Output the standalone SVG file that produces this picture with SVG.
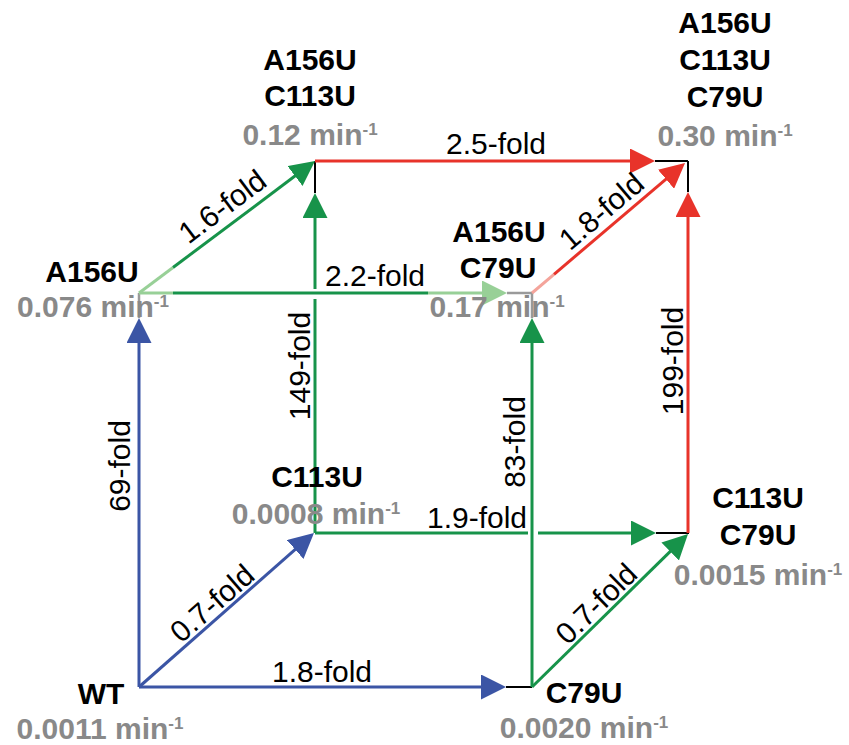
<svg xmlns="http://www.w3.org/2000/svg" width="849" height="745" viewBox="0 0 849 745">
<style>
.e{fill:none;stroke-width:3}
.b{stroke:#3b55a5}
.g{stroke:#17934a}
.r{stroke:#e8332a}
.lg{stroke:#98d097}
.lr{stroke:#f4a49b}
.k{stroke:#000;stroke-width:2;fill:none}
.gy{stroke:#9a9a9a;stroke-width:2.5;fill:none}
.f{font-family:"Liberation Sans",Arial,Helvetica,sans-serif;font-size:30px;fill:#000;text-anchor:middle}
.n{font-family:"Liberation Sans",Arial,Helvetica,sans-serif;font-size:30px;font-weight:bold;fill:#000;text-anchor:middle}
.v{fill:#898989}
.s{font-size:17px}
</style>
<defs>
<marker id="mb" viewBox="0 0 25 25" refX="2" refY="12.5" markerWidth="25" markerHeight="25" markerUnits="userSpaceOnUse" orient="auto"><path d="M0,0L25,12.5L0,25z" fill="#3b55a5"/></marker>
<marker id="mg" viewBox="0 0 25 25" refX="2" refY="12.5" markerWidth="25" markerHeight="25" markerUnits="userSpaceOnUse" orient="auto"><path d="M0,0L25,12.5L0,25z" fill="#17934a"/></marker>
<marker id="mr" viewBox="0 0 25 25" refX="2" refY="12.5" markerWidth="25" markerHeight="25" markerUnits="userSpaceOnUse" orient="auto"><path d="M0,0L25,12.5L0,25z" fill="#e8332a"/></marker>
<marker id="ml" viewBox="0 0 25 25" refX="2" refY="12.5" markerWidth="25" markerHeight="25" markerUnits="userSpaceOnUse" orient="auto"><path d="M0,0L25,12.5L0,25z" fill="#98d097"/></marker>
</defs>
<g id="connectors">
  <g id="e-c113-ac113">
    <path class="e g" d="M315,533V299"/>
    <path class="e g" d="M315,289V216" marker-end="url(#mg)"/>
    <path class="k" d="M315,193V161"/>
    <text class="f" transform="translate(310,366) rotate(-90)">149-fold</text>
  </g>
  <g id="e-c113-cc">
    <path class="e g" d="M315,533H528"/>
    <path class="e g" d="M538,533H633" marker-end="url(#mg)"/>
    <path class="k" d="M656,533H689"/>
    <text class="f" x="477" y="528">1.9-fold</text>
  </g>
  <g id="e-ac113-t">
    <path class="e r" d="M315,161H632" marker-end="url(#mr)"/>
    <path class="k" d="M655,161H688"/>
    <text class="f" x="496" y="154">2.5-fold</text>
  </g>
  <g id="e-cc-t">
    <path class="e r" d="M688,533V215" marker-end="url(#mr)"/>
    <path class="k" d="M688,192V161"/>
    <text class="f" transform="translate(683,361) rotate(-90)">199-fold</text>
  </g>
  <g id="e-wt-c79">
    <path class="e b" d="M139,687H483" marker-end="url(#mb)"/>
    <path class="k" d="M506,687H532"/>
    <text class="f" x="322" y="682">1.8-fold</text>
  </g>
  <g id="e-wt-a156">
    <path class="e b" d="M139,687V341" marker-end="url(#mb)"/>
    <path class="gy" d="M139,318V293"/>
    <text class="f" transform="translate(130,466) rotate(-90)">69-fold</text>
  </g>
  <g id="e-wt-c113">
    <path class="e b" d="M139,687L296.7,548.2" marker-end="url(#mb)"/>
    <text class="f" transform="translate(219,611) rotate(-41.2)">0.7-fold</text>
  </g>
  <g id="e-c79-ac79">
    <path class="e g" d="M532,687V341" marker-end="url(#mg)"/>
    <path class="gy" d="M532,318V293"/>
    <text class="f" transform="translate(525,442) rotate(-90)">83-fold</text>
  </g>
  <g id="e-c79-cc">
    <path class="e g" d="M532,687L671.6,550.1" marker-end="url(#mg)"/>
    <text class="f" transform="translate(603.5,611) rotate(-44.4)">0.7-fold</text>
  </g>
  <g id="e-a156-ac113">
    <path class="e lg" d="M139,293L173,267.5"/>
    <path class="e g" d="M173,267.5L296.6,174.8" marker-end="url(#mg)"/>
    <text class="f" transform="translate(228.6,214.8) rotate(-36.87)">1.6-fold</text>
  </g>
  <g id="e-a156-ac79">
    <path class="e lg" d="M139,293H173"/>
    <path class="e g" d="M173,293H428"/>
    <path class="e lg" d="M428,293H484" marker-end="url(#ml)"/>
    <path class="gy" d="M507,293H532"/>
    <text class="f" x="375" y="286">2.2-fold</text>
  </g>
  <g id="e-ac79-t">
    <path class="e lr" d="M532,293L554,274.3"/>
    <path class="e r" d="M554,274.3L667.5,177.9" marker-end="url(#mr)"/>
    <text class="f" transform="translate(608,219) rotate(-40.4)">1.8-fold</text>
  </g>
</g>
<g id="node-wt">
  <text class="n" x="101" y="704">WT</text>
  <text class="n v" x="100" y="739">0.0011 min<tspan class="s" dy="-10">-1</tspan></text>
</g>
<g id="node-c79u">
  <text class="n" x="584" y="703">C79U</text>
  <text class="n v" x="584" y="738">0.0020 min<tspan class="s" dy="-10">-1</tspan></text>
</g>
<g id="node-c113u">
  <text class="n" x="317" y="487">C113U</text>
  <text class="n v" x="316" y="524">0.0008 min<tspan class="s" dy="-10">-1</tspan></text>
</g>
<g id="node-c113u-c79u">
  <text class="n" x="758" y="508">C113U</text>
  <text class="n" x="758" y="545">C79U</text>
  <text class="n v" x="758" y="585">0.0015 min<tspan class="s" dy="-10">-1</tspan></text>
</g>
<g id="node-a156u">
  <text class="n" x="92" y="282">A156U</text>
  <text class="n v" x="93" y="317">0.076 min<tspan class="s" dy="-10">-1</tspan></text>
</g>
<g id="node-a156u-c79u">
  <text class="n" x="499" y="242">A156U</text>
  <text class="n" x="498" y="278">C79U</text>
  <text class="n v" x="497" y="317">0.17 min<tspan class="s" dy="-10">-1</tspan></text>
</g>
<g id="node-a156u-c113u">
  <text class="n" x="310" y="70">A156U</text>
  <text class="n" x="310" y="106">C113U</text>
  <text class="n v" x="310" y="145">0.12 min<tspan class="s" dy="-10">-1</tspan></text>
</g>
<g id="node-triple">
  <text class="n" x="725" y="33">A156U</text>
  <text class="n" x="725" y="70">C113U</text>
  <text class="n" x="725" y="107">C79U</text>
  <text class="n v" x="725" y="146">0.30 min<tspan class="s" dy="-10">-1</tspan></text>
</g>
</svg>
